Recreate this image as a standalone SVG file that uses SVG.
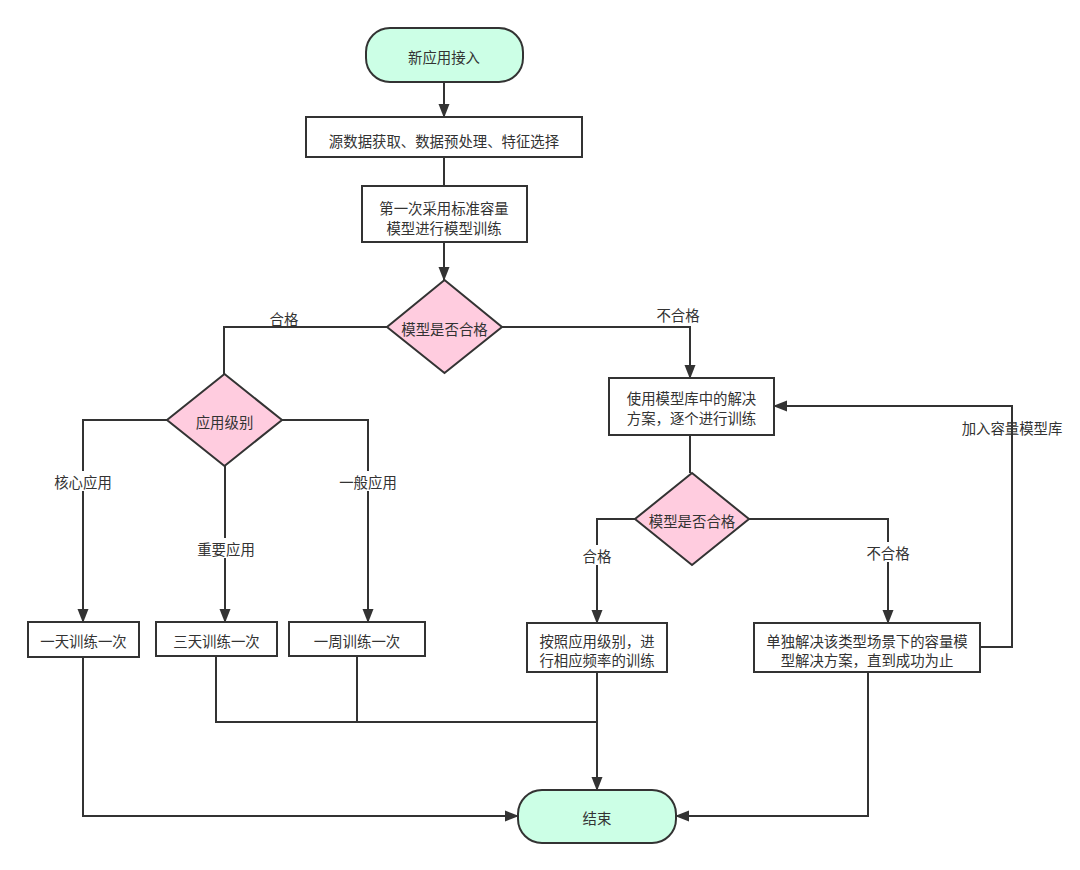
<svg xmlns="http://www.w3.org/2000/svg" width="1080" height="870" viewBox="0 0 1080 870">
<style>
text{font-family:"Noto Sans CJK SC","Liberation Sans",sans-serif;font-size:14.4px;fill:#333;text-anchor:middle;dominant-baseline:central}
.box{fill:#fff;stroke:#333;stroke-width:2}
.term{fill:#ccffe6;stroke:#333;stroke-width:2}
.dia{fill:#ffccdf;stroke:#333;stroke-width:2}
.ln{fill:none;stroke:#333;stroke-width:2}
.arr{marker-end:url(#ah)}
.bg{fill:#fff}
</style>
<defs>
<marker id="ah" markerUnits="userSpaceOnUse" markerWidth="14" markerHeight="12" refX="13" refY="6" orient="auto">
<path d="M0,0.5 L14,6 L0,11.5 z" fill="#333"/>
</marker>
</defs>
<rect width="1080" height="870" fill="#fff"/>
<g id="connectors">
<path class="ln arr" d="M444,82 V117"/>
<path class="ln" d="M444,157 V186"/>
<path class="ln arr" d="M444,242 V280"/>
<path class="ln" d="M387,327 H224 V374"/>
<path class="ln arr" d="M502,327 H690 V378"/>
<path class="ln arr" d="M167,420 H83 V622"/>
<path class="ln arr" d="M225,466 V622"/>
<path class="ln arr" d="M282,420 H368 V622"/>
<path class="ln" d="M690,435 V473"/>
<path class="ln arr" d="M635,519 H597 V623"/>
<path class="ln arr" d="M749,519 H888 V623"/>
<path class="ln arr" d="M980,647 H1012 V406 H774"/>
<path class="ln arr" d="M83,657 V816 H518"/>
<path class="ln" d="M216,656 V722 H597"/>
<path class="ln" d="M357,656 V722"/>
<path class="ln arr" d="M597,672 V790"/>
<path class="ln arr" d="M868,672 V816 H676"/>
<text x="284" y="318">合格</text>
<text x="678" y="314">不合格</text>
<rect class="bg" x="50" y="471" width="66" height="20"/>
<text x="83" y="481">核心应用</text>
<rect class="bg" x="193" y="538" width="66" height="20"/>
<text x="226" y="548">重要应用</text>
<rect class="bg" x="335" y="471" width="66" height="20"/>
<text x="368" y="481">一般应用</text>
<rect class="bg" x="580" y="545" width="34" height="20"/>
<text x="597" y="555">合格</text>
<rect class="bg" x="864" y="542" width="48" height="20"/>
<text x="888" y="552">不合格</text>
<text x="1012" y="427">加入容量模型库</text>
</g>
<g id="start">
<rect class="term" x="366" y="28" width="157" height="54" rx="24" ry="24"/>
<text x="444" y="56">新应用接入</text>
</g>
<g id="preprocess">
<rect class="box" x="306" y="117" width="276" height="40"/>
<text x="444" y="140">源数据获取、数据预处理、特征选择</text>
</g>
<g id="first-train">
<rect class="box" x="362" y="186" width="165" height="56"/>
<text x="444" y="207">第一次采用标准容量</text>
<text x="444" y="227">模型进行模型训练</text>
</g>
<g id="check1">
<path class="dia" d="M444.5,280 L502,327 L444.5,373 L387,327 z"/>
<text x="444.5" y="328">模型是否合格</text>
</g>
<g id="level">
<path class="dia" d="M224.5,374 L282,420 L224.5,466 L167,420 z"/>
<text x="224.5" y="421">应用级别</text>
</g>
<g id="daily">
<rect class="box" x="28" y="622" width="111" height="35"/>
<text x="83.5" y="640">一天训练一次</text>
</g>
<g id="three-day">
<rect class="box" x="156" y="622" width="121" height="34"/>
<text x="216.5" y="640">三天训练一次</text>
</g>
<g id="weekly">
<rect class="box" x="289" y="622" width="136" height="34"/>
<text x="357" y="640">一周训练一次</text>
</g>
<g id="model-lib">
<rect class="box" x="609" y="378" width="165" height="57"/>
<text x="691.5" y="397">使用模型库中的解决</text>
<text x="691.5" y="417">方案，逐个进行训练</text>
</g>
<g id="check2">
<path class="dia" d="M692,473 L749,519 L692,565 L635,519 z"/>
<text x="692" y="520">模型是否合格</text>
</g>
<g id="by-level">
<rect class="box" x="527" y="623" width="140" height="49"/>
<text x="597" y="640">按照应用级别，进</text>
<text x="597" y="659">行相应频率的训练</text>
</g>
<g id="solve">
<rect class="box" x="754" y="623" width="226" height="49"/>
<text x="867" y="640">单独解决该类型场景下的容量模</text>
<text x="867" y="659">型解决方案，直到成功为止</text>
</g>
<g id="end">
<rect class="term" x="518" y="790" width="158" height="53" rx="24" ry="24"/>
<text x="597" y="817">结束</text>
</g>
</svg>
